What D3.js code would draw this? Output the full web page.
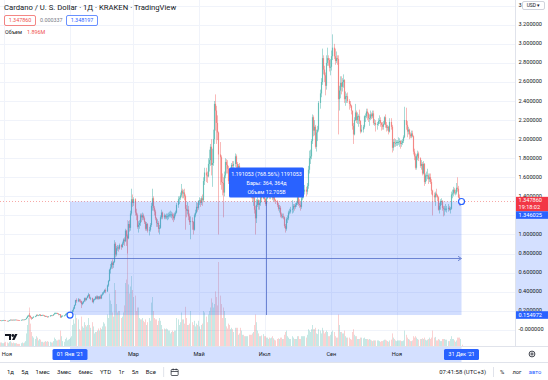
<!DOCTYPE html>
<html><head><meta charset="utf-8">
<script src="https://cdn.jsdelivr.net/npm/d3@7"></script>
<style>
html,body{margin:0;padding:0;background:#fff;}
svg{display:block;font-family:Roboto,"Liberation Sans",Arial,sans-serif;}
</style></head><body>
<svg id="c" width="548" height="380"></svg>
<script>
// ---------- DATA (daily candles, ADA/USD Kraken) ----------
const monthStarts = ["2020-10-27","2020-11-01","2020-12-01","2021-01-01","2021-02-01","2021-03-01","2021-04-01","2021-05-01","2021-06-01","2021-07-01","2021-08-01","2021-09-01","2021-10-01","2021-11-01","2021-12-01"];
const close = [
 [0.101,0.097,0.098,0.100,0.101],
 [0.100,0.094,0.092,0.094,0.100,0.106,0.101,0.105,0.104,0.105,0.106,0.104,0.103,0.101,0.099,0.104,0.107,0.106,0.108,0.112,0.126,0.142,0.150,0.146,0.131,0.118,0.128,0.138,0.142,0.157],
 [0.150,0.152,0.160,0.146,0.153,0.156,0.151,0.141,0.145,0.140,0.133,0.140,0.151,0.152,0.150,0.162,0.173,0.173,0.176,0.170,0.161,0.163,0.130,0.146,0.147,0.150,0.164,0.168,0.171,0.173,0.175],
 [0.176,0.179,0.205,0.224,0.259,0.311,0.300,0.318,0.305,0.301,0.270,0.284,0.299,0.331,0.313,0.333,0.355,0.370,0.332,0.335,0.291,0.316,0.322,0.347,0.327,0.350,0.326,0.348,0.330,0.368,0.381],
 [0.392,0.417,0.403,0.465,0.512,0.630,0.655,0.703,0.680,0.712,0.903,0.790,0.855,0.864,0.852,0.890,0.868,0.907,0.946,0.930,1.040,0.980,0.960,1.110,1.070,1.220,1.370,1.330],
 [1.370,1.230,1.200,1.080,1.100,1.120,1.200,1.180,1.200,1.170,1.130,1.060,1.110,1.040,1.050,1.100,1.300,1.380,1.280,1.240,1.170,1.120,1.120,1.060,1.070,1.180,1.230,1.180,1.200,1.180,1.190],
 [1.190,1.200,1.210,1.210,1.210,1.190,1.170,1.210,1.230,1.310,1.370,1.380,1.410,1.460,1.430,1.440,1.400,1.270,1.250,1.260,1.190,1.130,1.140,1.130,1.050,1.200,1.230,1.290,1.280,1.350],
 [1.360,1.330,1.380,1.360,1.560,1.650,1.620,1.610,1.740,1.780,1.920,1.730,1.750,2.000,2.370,2.300,2.170,2.070,1.840,1.810,1.550,1.540,1.440,1.620,1.760,1.730,1.690,1.560,1.530,1.620,1.730],
 [1.720,1.740,1.820,1.740,1.630,1.720,1.650,1.550,1.550,1.550,1.520,1.490,1.560,1.580,1.580,1.500,1.480,1.430,1.380,1.390,1.260,1.170,1.310,1.360,1.310,1.330,1.390,1.380,1.430,1.370],
 [1.320,1.380,1.420,1.440,1.400,1.430,1.460,1.380,1.410,1.360,1.350,1.310,1.270,1.280,1.210,1.190,1.190,1.180,1.090,1.060,1.160,1.170,1.230,1.240,1.260,1.270,1.300,1.290,1.310,1.330,1.390],
 [1.320,1.310,1.290,1.380,1.420,1.450,1.470,1.450,1.510,1.680,1.800,1.820,1.980,2.230,2.090,2.130,1.920,2.070,2.100,2.380,2.480,2.600,2.850,2.730,2.670,2.560,2.800,2.850,2.830,2.750,2.760],
 [2.870,2.960,2.870,2.820,2.850,2.840,2.420,2.510,2.590,2.550,2.600,2.620,2.420,2.450,2.450,2.400,2.370,2.350,2.300,2.140,2.050,2.200,2.280,2.200,2.240,2.240,2.190,2.080,2.100,2.130],
 [2.240,2.240,2.290,2.270,2.220,2.220,2.260,2.240,2.270,2.170,2.170,2.150,2.160,2.190,2.200,2.170,2.150,2.130,2.160,2.230,2.150,2.120,2.130,2.080,2.180,2.130,1.910,1.970,1.960,1.960,1.970],
 [1.970,1.970,1.980,1.950,1.960,1.980,2.020,2.200,2.150,2.080,2.100,2.050,2.030,2.060,2.030,1.870,1.820,1.700,1.820,1.850,1.800,1.720,1.740,1.640,1.740,1.550,1.620,1.620,1.620,1.580],
 [1.600,1.550,1.460,1.410,1.390,1.430,1.410,1.390,1.260,1.300,1.350,1.350,1.280,1.270,1.270,1.270,1.270,1.280,1.260,1.270,1.420,1.430,1.470,1.440,1.440,1.490,1.480,1.390,1.320,1.360,1.34786]
];
const high = [
 [0.104,0.102,0.100,0.102,0.104],
 [0.103,0.101,0.095,0.096,0.101,0.108,0.107,0.106,0.108,0.107,0.108,0.107,0.105,0.104,0.102,0.105,0.109,0.109,0.110,0.114,0.130,0.150,0.158,0.175,0.150,0.133,0.131,0.140,0.146,0.160],
 [0.162,0.156,0.163,0.162,0.155,0.158,0.158,0.153,0.148,0.147,0.141,0.142,0.153,0.156,0.153,0.165,0.180,0.182,0.180,0.179,0.172,0.166,0.165,0.150,0.152,0.155,0.170,0.180,0.173,0.183,0.186],
 [0.184,0.187,0.210,0.240,0.264,0.315,0.330,0.333,0.325,0.321,0.305,0.294,0.305,0.338,0.339,0.340,0.362,0.387,0.374,0.346,0.336,0.324,0.330,0.352,0.360,0.360,0.352,0.356,0.368,0.371,0.395],
 [0.405,0.425,0.434,0.475,0.523,0.640,0.690,0.720,0.740,0.720,0.940,0.920,0.880,0.890,0.885,0.905,0.900,0.925,0.960,0.970,1.060,1.050,1.000,1.140,1.150,1.250,1.480,1.420],
 [1.390,1.380,1.270,1.220,1.140,1.150,1.220,1.220,1.230,1.220,1.190,1.140,1.130,1.120,1.080,1.120,1.330,1.480,1.400,1.300,1.260,1.180,1.160,1.140,1.100,1.200,1.260,1.240,1.220,1.210,1.220],
 [1.220,1.230,1.240,1.250,1.240,1.230,1.220,1.230,1.250,1.330,1.400,1.400,1.440,1.530,1.480,1.470,1.480,1.420,1.310,1.340,1.300,1.220,1.190,1.180,1.140,1.220,1.260,1.340,1.330,1.360],
 [1.390,1.380,1.400,1.420,1.600,1.700,1.700,1.660,1.800,1.890,1.950,2.000,1.900,2.100,2.400,2.470,2.350,2.250,2.080,1.970,1.830,1.640,1.600,1.660,1.800,1.790,1.780,1.720,1.620,1.650,1.750],
 [1.770,1.770,1.850,1.840,1.760,1.740,1.750,1.660,1.620,1.620,1.590,1.540,1.570,1.620,1.630,1.590,1.540,1.490,1.440,1.420,1.400,1.300,1.370,1.440,1.370,1.360,1.420,1.450,1.470,1.440],
 [1.380,1.400,1.440,1.460,1.450,1.460,1.490,1.460,1.430,1.420,1.370,1.360,1.330,1.310,1.300,1.230,1.220,1.220,1.190,1.110,1.180,1.200,1.250,1.270,1.290,1.360,1.320,1.320,1.330,1.350,1.420],
 [1.400,1.370,1.340,1.400,1.440,1.480,1.520,1.500,1.540,1.720,1.880,1.890,2.000,2.260,2.250,2.200,2.150,2.100,2.140,2.400,2.520,2.640,2.950,2.880,2.770,2.700,2.880,2.960,2.880,2.850,2.840],
 [2.930,3.100,3.000,2.950,2.920,2.880,2.880,2.560,2.660,2.660,2.640,2.680,2.630,2.500,2.480,2.490,2.420,2.400,2.360,2.300,2.170,2.230,2.370,2.300,2.280,2.260,2.310,2.200,2.150,2.150],
 [2.250,2.270,2.320,2.320,2.280,2.260,2.300,2.280,2.300,2.300,2.210,2.200,2.180,2.220,2.250,2.230,2.180,2.180,2.190,2.240,2.260,2.180,2.150,2.140,2.220,2.220,2.150,2.000,2.010,2.000,1.990],
 [1.990,2.020,2.010,1.990,1.990,2.000,2.040,2.340,2.330,2.190,2.130,2.110,2.070,2.090,2.090,2.040,1.900,1.850,1.840,1.880,1.870,1.810,1.780,1.760,1.770,1.750,1.640,1.660,1.690,1.640],
 [1.640,1.640,1.580,1.470,1.440,1.450,1.480,1.420,1.400,1.330,1.370,1.380,1.360,1.300,1.300,1.320,1.300,1.320,1.300,1.290,1.450,1.470,1.500,1.490,1.470,1.540,1.600,1.510,1.420,1.380,1.370]
];
const low = [
 [0.098,0.095,0.096,0.097,0.099],
 [0.098,0.093,0.090,0.090,0.093,0.099,0.099,0.100,0.101,0.102,0.103,0.102,0.101,0.099,0.097,0.098,0.102,0.104,0.104,0.107,0.111,0.122,0.136,0.135,0.118,0.104,0.113,0.125,0.133,0.140],
 [0.146,0.147,0.150,0.143,0.145,0.150,0.150,0.138,0.137,0.138,0.128,0.132,0.139,0.147,0.147,0.148,0.159,0.167,0.169,0.165,0.152,0.157,0.125,0.127,0.140,0.143,0.149,0.160,0.157,0.167,0.169],
 [0.170,0.170,0.171,0.188,0.217,0.252,0.283,0.290,0.290,0.281,0.228,0.258,0.273,0.294,0.297,0.306,0.330,0.342,0.323,0.311,0.285,0.276,0.306,0.315,0.320,0.318,0.316,0.320,0.322,0.322,0.357],
 [0.370,0.389,0.383,0.397,0.451,0.507,0.590,0.640,0.640,0.650,0.700,0.760,0.770,0.830,0.820,0.840,0.840,0.860,0.890,0.880,0.920,0.880,0.800,0.950,1.030,1.040,1.200,1.290],
 [1.300,1.200,1.150,1.060,1.020,1.060,1.090,1.130,1.150,1.150,1.110,1.040,1.040,1.020,0.990,1.030,1.080,1.250,1.250,1.200,1.150,1.080,1.080,1.020,1.000,1.060,1.160,1.160,1.160,1.160,1.160],
 [1.150,1.160,1.180,1.180,1.170,1.150,1.130,1.150,1.190,1.220,1.280,1.320,1.360,1.390,1.380,1.380,1.360,1.050,1.180,1.210,1.150,1.100,0.950,1.050,1.000,1.040,1.180,1.220,1.240,1.260],
 [1.310,1.290,1.310,1.300,1.340,1.520,1.550,1.540,1.600,1.660,1.720,1.620,1.500,1.720,1.950,2.090,1.950,1.990,1.000,1.520,1.470,1.410,1.180,1.400,1.590,1.640,1.640,1.530,1.420,1.480,1.560],
 [1.640,1.660,1.710,1.690,1.590,1.600,1.610,1.440,1.500,1.480,1.470,1.460,1.440,1.510,1.540,1.470,1.440,1.380,1.340,1.300,1.220,1.000,1.120,1.290,1.260,1.260,1.300,1.340,1.370,1.340],
 [1.300,1.300,1.370,1.400,1.370,1.370,1.400,1.360,1.350,1.340,1.320,1.290,1.250,1.230,1.180,1.170,1.170,1.160,1.070,1.020,1.040,1.120,1.150,1.210,1.220,1.220,1.230,1.250,1.270,1.290,1.310],
 [1.300,1.280,1.250,1.270,1.360,1.380,1.420,1.400,1.420,1.480,1.640,1.740,1.790,1.950,2.030,2.040,1.900,1.870,1.980,2.080,2.320,2.440,2.570,2.680,2.600,2.460,2.520,2.770,2.770,2.710,2.670],
 [2.720,2.830,2.840,2.780,2.800,2.780,2.050,2.300,2.430,2.470,2.500,2.540,2.380,2.350,2.380,2.380,2.310,2.330,2.260,2.100,1.950,2.040,2.190,2.170,2.160,2.130,2.160,2.060,2.070,2.070],
 [2.110,2.180,2.220,2.200,2.180,2.140,2.200,2.210,2.220,2.150,2.140,2.080,2.100,2.140,2.160,2.130,2.090,2.100,2.100,2.150,2.120,2.080,2.090,2.050,2.070,2.100,1.860,1.880,1.920,1.920,1.930],
 [1.930,1.940,1.920,1.900,1.920,1.940,1.960,2.010,2.100,2.020,2.050,2.000,2.010,2.010,2.020,1.840,1.780,1.680,1.680,1.780,1.770,1.700,1.680,1.620,1.630,1.510,1.530,1.560,1.580,1.530],
 [1.550,1.530,1.420,1.200,1.340,1.300,1.390,1.350,1.250,1.220,1.260,1.310,1.250,1.190,1.200,1.240,1.230,1.240,1.250,1.220,1.260,1.380,1.400,1.420,1.410,1.420,1.450,1.380,1.300,1.300,1.340]
];
// volume, millions
const volume = [
 [6,5,5,4,4],
 [5,6,5,4,6,7,5,4,5,4,4,4,3,3,3,4,5,4,5,7,18,30,40,55,32,20,14,12,10,14],
 [12,8,10,9,6,6,5,6,7,6,7,6,6,5,5,7,12,10,8,8,9,9,22,14,7,6,10,12,8,9,10],
 [12,14,30,38,32,45,40,38,24,22,42,28,26,34,30,28,30,40,30,26,34,28,18,20,20,22,25,22,26,24,28],
 [34,32,28,45,40,75,65,60,48,42,90,80,60,48,50,50,40,42,48,58,90,95,180,88,75,85,100,80],
 [70,72,50,55,55,40,38,38,40,36,34,38,30,34,40,36,62,70,50,40,38,38,30,36,40,36,30,24,25,24,25],
 [24,22,22,18,20,22,20,22,22,40,38,30,34,48,38,38,32,56,40,30,30,32,50,34,30,36,28,32,30,36],
 [28,24,30,32,50,48,42,34,45,50,55,68,62,55,60,78,70,58,120,72,60,40,55,50,40,28,25,32,30,24,26],
 [24,20,26,26,26,16,18,26,22,16,16,14,14,14,14,16,16,16,18,20,30,45,34,22,18,14,14,15,17,14],
 [14,12,12,10,12,11,12,14,11,9,8,10,11,10,12,12,10,10,16,20,22,14,12,10,10,14,12,10,10,10,14],
 [14,10,10,14,14,14,14,12,16,24,22,20,24,30,24,24,26,18,17,24,22,18,26,22,18,20,22,20,14,14,16],
 [20,22,20,14,12,12,45,30,20,20,18,18,22,14,12,12,12,10,9,20,24,16,14,14,10,10,10,12,12,11],
 [12,10,10,10,9,10,9,8,7,8,8,8,8,8,7,6,7,7,8,9,9,8,7,6,8,9,18,12,10,8,7],
 [8,8,8,8,7,7,8,22,16,12,10,9,7,7,8,14,12,14,12,10,9,10,10,11,10,12,9,8,9,10],
 [12,10,12,22,12,13,8,8,10,9,7,7,10,10,10,9,9,7,7,10,14,10,10,8,6,8,12,12,12,10,1.896]
];
const priceTicks = [3.4,3.2,3.0,2.8,2.6,2.4,2.2,2.0,1.8,1.6,1.4,1.2,1.0,0.8,0.6,0.4,0.2,0.0,-0.2];
const priceTickLabels = ["3.400000","3.200000","3.000000","2.800000","2.600000","2.400000","2.200000","2.000000","1.800000","1.600000","1.400000","1.200000","1.000000","0.800000","0.600000","0.400000","0.200000","-0.000000","-0.200000"];
const gridDates = ["2020-11-01","2021-01-01","2021-03-01","2021-05-01","2021-07-01","2021-09-01","2021-11-01"];
const timeTickDates = ["2020-11-01","2021-03-01","2021-05-01","2021-07-01","2021-09-01","2021-11-01"];
const timeTickTexts = ["Ноя","Мар","Май","Июл","Сен","Ноя"];
const measureDates = ["2021-01-01","2021-12-31"];
const measurePrices = [0.154972, 1.346025];
const measureText = ["1.191053 (768.56%) 1191053","Бары: 364, 364д","Объем 12.705B"];
const measureDateTexts = ["01 Янв '21","31 Дек '21"];
const titleText = "Cardano / U. S. Dollar · 1Д · KRAKEN · TradingView";
const quoteTexts = ["1.347860","0.000337","1.348197"];
const volumeLegend = ["Объем","1.896M"];
const lastPrice = 1.34786, lastPriceText = "1.347860", countdownText = "19:18:02";
const rangeButtons = ["1д","5д","1мес","3мес","6мес","YTD","1г","5л","Все"];
const clockText = "07:41:58 (UTC+3)";
const scaleButtons = ["%","лог","авто"];

// ---------- BUILD ----------
const rows = [];
monthStarts.forEach((ms, m) => {
  const t0 = Date.parse(ms + "T00:00:00Z");
  close[m].forEach((c, i) => rows.push({date: new Date(t0 + i*864e5), c, h: high[m][i], l: low[m][i], v: volume[m][i]}));
});
rows.forEach((r, i) => { r.o = i ? rows[i-1].c : r.c; r.up = r.c >= r.o; r.h = Math.max(r.h, r.o, r.c); r.l = Math.min(r.l, r.o, r.c); });

const paneR = 515, paneB = 346, axisB = 362;
const UP = "#26a69a", DN = "#ef5350", BLUE = "#2962ff", TXT = "#131722";
const svg = d3.select("#c");
const x = d3.scaleUtc().domain([new Date(Date.UTC(2021,0,1)), new Date(Date.UTC(2021,11,31))]).range([70, 461.5]);
const y = d3.scaleLinear().domain([0, 3.2]).range([329.8, 24.8]);
const yv = d3.scaleLinear().domain([0, 180]).range([paneB, 220]);
const px = d => Math.round(x(d)) + 0.5;
const parse = s => new Date(s + "T00:00:00Z");

svg.append("rect").attr("width",548).attr("height",380).attr("fill","#fff");
const defs = svg.append("defs");
defs.append("clipPath").attr("id","pane").append("rect").attr("x",0).attr("y",0).attr("width",paneR).attr("height",paneB);
defs.append("clipPath").attr("id","usdclip").append("rect").attr("x",paneR).attr("y",0).attr("width",7).attr("height",12);
const pane = svg.append("g").attr("clip-path","url(#pane)");

// grid
pane.selectAll("line.gh").data(priceTicks).join("line").attr("class","gh")
  .attr("x1",0).attr("x2",paneR).attr("y1",d=>Math.round(y(d))+0.5).attr("y2",d=>Math.round(y(d))+0.5)
  .attr("stroke","#f0f3fa").attr("stroke-width",1);
pane.selectAll("line.gv").data(gridDates).join("line").attr("class","gv")
  .attr("x1",d=>px(parse(d))).attr("x2",d=>px(parse(d))).attr("y1",0).attr("y2",paneB)
  .attr("stroke","#f0f3fa").attr("stroke-width",1);

// volume
pane.selectAll("rect.vol").data(rows).join("rect").attr("class","vol")
  .attr("x",d=>Math.round(x(d.date))).attr("width",1)
  .attr("y",d=>yv(d.v)).attr("height",d=>paneB-yv(d.v))
  .attr("fill",d=>d.up?UP:DN).attr("fill-opacity",0.26);

// candles
pane.selectAll("line.wick").data(rows).join("line").attr("class","wick")
  .attr("x1",d=>px(d.date)).attr("x2",d=>px(d.date))
  .attr("y1",d=>y(d.h)).attr("y2",d=>y(d.l))
  .attr("stroke",d=>d.up?UP:DN).attr("stroke-opacity",0.4).attr("stroke-width",1);
pane.selectAll("rect.body").data(rows).join("rect").attr("class","body")
  .attr("x",d=>px(d.date)-0.6).attr("width",1.2)
  .attr("y",d=>y(Math.max(d.o,d.c))).attr("height",d=>Math.max(0.8,Math.abs(y(d.o)-y(d.c))))
  .attr("fill",d=>d.up?UP:DN).attr("fill-opacity",0.5);

// price line
pane.append("line").attr("x1",0).attr("x2",paneR).attr("y1",Math.round(y(lastPrice))+0.5).attr("y2",Math.round(y(lastPrice))+0.5)
  .attr("stroke",DN).attr("stroke-opacity",0.5).attr("stroke-dasharray","1,2");

// measure tool
const mx0 = x(parse(measureDates[0])), mx1 = x(parse(measureDates[1]));
const my0 = y(measurePrices[0]), my1 = y(measurePrices[1]);
pane.append("rect").attr("x",mx0).attr("y",my1).attr("width",mx1-mx0).attr("height",my0-my1)
  .attr("fill",BLUE).attr("fill-opacity",0.21);
const mmx = Math.round((mx0+mx1)/2)+0.5, mmy = Math.round((my0+my1)/2)+0.5;
pane.append("line").attr("x1",mx0).attr("x2",mx1-1).attr("y1",mmy).attr("y2",mmy).attr("stroke","#4a66c4").attr("stroke-opacity",0.75);
pane.append("path").attr("d",`M${mx1-3.5},${mmy-2.2}L${mx1},${mmy}L${mx1-3.5},${mmy+2.2}`).attr("fill","none").attr("stroke","#4a66c4").attr("stroke-opacity",0.75);
pane.append("line").attr("x1",mmx).attr("x2",mmx).attr("y1",my1).attr("y2",my0).attr("stroke","#4a66c4").attr("stroke-opacity",0.75);
const lbW = 75, lbH = 30, lbX = mmx - lbW/2, lbY = my1 - lbH - 4;
pane.append("rect").attr("x",lbX).attr("y",lbY).attr("width",lbW).attr("height",lbH).attr("rx",1.5).attr("fill",BLUE);
pane.selectAll("text.ml").data(measureText).join("text").attr("class","ml")
  .attr("x",mmx).attr("y",(d,i)=>lbY+7.5+i*9).attr("text-anchor","middle").attr("dominant-baseline","middle")
  .attr("font-size",5.4).attr("fill","#fff").text(d=>d);
[[mx0,my0],[mx1,my1]].forEach(([cx,cy])=>pane.append("circle").attr("cx",cx).attr("cy",cy).attr("r",3)
  .attr("fill","#fff").attr("stroke",BLUE).attr("stroke-width",1.2));

// TV logo
const logo = svg.append("g").attr("transform","translate(5,334)").attr("fill","#131722");
logo.append("path").attr("d","M0,0H6V6H4V2H0Z");
logo.append("circle").attr("cx",7.8).attr("cy",1.5).attr("r",1.4);
logo.append("path").attr("d","M10,0H12.5L9.5,6H7Z");

// legend
svg.append("text").attr("x",4).attr("y",9.5).attr("font-size",7.7).attr("fill",TXT).text(titleText);
const q = svg.append("g").attr("font-size",5.4);
q.append("rect").attr("x",4.5).attr("y",15.5).attr("width",31).attr("height",10).attr("rx",1.5).attr("fill","#fff").attr("stroke",DN).attr("stroke-opacity",0.7);
q.append("text").attr("x",20).attr("y",20.7).attr("text-anchor","middle").attr("dominant-baseline","middle").attr("fill",DN).text(quoteTexts[0]);
q.append("text").attr("x",40).attr("y",20.7).attr("dominant-baseline","middle").attr("fill","#787b86").text(quoteTexts[1]);
q.append("rect").attr("x",66.5).attr("y",15.5).attr("width",31).attr("height",10).attr("rx",1.5).attr("fill","#fff").attr("stroke",BLUE).attr("stroke-opacity",0.7);
q.append("text").attr("x",82).attr("y",20.7).attr("text-anchor","middle").attr("dominant-baseline","middle").attr("fill",BLUE).text(quoteTexts[2]);
q.append("text").attr("x",5).attr("y",33).attr("dominant-baseline","middle").attr("fill",TXT).text(volumeLegend[0]);
q.append("text").attr("x",27).attr("y",33).attr("dominant-baseline","middle").attr("fill",DN).text(volumeLegend[1]);

// price axis
const ax = svg.append("g");
ax.append("rect").attr("x",paneR).attr("y",0).attr("width",548-paneR).attr("height",paneB).attr("fill","#fff");
ax.append("rect").attr("x",paneR).attr("y",my1).attr("width",548-paneR).attr("height",my0-my1).attr("fill",BLUE).attr("fill-opacity",0.2);
ax.append("line").attr("x1",paneR+0.5).attr("x2",paneR+0.5).attr("y1",0).attr("y2",axisB).attr("stroke","#e0e3eb");
ax.selectAll("text.pt").data(priceTicks).join("text").attr("class","pt")
  .attr("x",518.5).attr("y",d=>y(d)).attr("dominant-baseline","middle").attr("font-size",5.6).attr("fill",TXT)
  .attr("clip-path",(d,i)=>i===0?"url(#usdclip)":null)
  .text((d,i)=>priceTickLabels[i]);
// USD box
ax.append("rect").attr("x",522.5).attr("y",1.5).attr("width",22).attr("height",8).attr("rx",1.5).attr("fill","#fff").attr("stroke","#d1d4dc");
ax.append("text").attr("x",533.5).attr("y",5.8).attr("text-anchor","middle").attr("dominant-baseline","middle").attr("font-size",5).attr("fill",TXT).text("USD ▾");
// labels
const ly = y(lastPrice);
ax.append("rect").attr("x",paneR+1).attr("y",ly-4.5).attr("width",32).attr("height",14.5).attr("fill","#f23645");
ax.append("text").attr("x",518.5).attr("y",ly-0.5).attr("dominant-baseline","middle").attr("font-size",5.6).attr("fill","#fff").text(lastPriceText);
ax.append("text").attr("x",518.5).attr("y",ly+6).attr("dominant-baseline","middle").attr("font-size",5.6).attr("fill","#fff").text(countdownText);
ax.append("rect").attr("x",paneR+1).attr("y",ly+10).attr("width",32).attr("height",7.5).attr("fill",BLUE);
ax.append("text").attr("x",518.5).attr("y",ly+13.9).attr("dominant-baseline","middle").attr("font-size",5.6).attr("fill","#fff").text(d3.format(".6f")(measurePrices[1]));
ax.append("rect").attr("x",paneR+1).attr("y",my0-3.8).attr("width",32).attr("height",7.6).attr("fill",BLUE);
ax.append("text").attr("x",518.5).attr("y",my0+0.1).attr("dominant-baseline","middle").attr("font-size",5.6).attr("fill","#fff").text(d3.format(".6f")(measurePrices[0]));

// time axis
const ta = svg.append("g");
ta.append("rect").attr("x",0).attr("y",paneB).attr("width",548).attr("height",axisB-paneB).attr("fill","#fff");
ta.append("line").attr("x1",0).attr("x2",548).attr("y1",paneB+0.5).attr("y2",paneB+0.5).attr("stroke","#e0e3eb");
ta.append("rect").attr("x",mx0).attr("y",paneB+1).attr("width",mx1-mx0).attr("height",axisB-paneB-1).attr("fill",BLUE).attr("fill-opacity",0.2);
ta.selectAll("text.tt").data(timeTickDates).join("text").attr("class","tt")
  .attr("x",d=>Math.max(7,x(parse(d)))).attr("y",354.5).attr("text-anchor","middle").attr("dominant-baseline","middle")
  .attr("font-size",5.6).attr("fill",TXT).text((d,i)=>timeTickTexts[i]);
measureDates.forEach((d,i)=>{
  const cx = x(parse(d));
  ta.append("rect").attr("x",cx-17.5).attr("y",349).attr("width",35).attr("height",11).attr("rx",1.5).attr("fill",BLUE);
  ta.append("text").attr("x",cx).attr("y",354.7).attr("text-anchor","middle").attr("dominant-baseline","middle").attr("font-size",5.6).attr("fill","#fff").text(measureDateTexts[i]);
});
// gear
const gear = ta.append("g").attr("transform","translate(532,354)").attr("fill","none").attr("stroke","#131722").attr("stroke-width",0.8);
gear.append("circle").attr("r",2.9);
gear.append("circle").attr("r",1.1);

// bottom toolbar
const tb = svg.append("g");
tb.append("line").attr("x1",0).attr("x2",548).attr("y1",axisB+0.5).attr("y2",axisB+0.5).attr("stroke","#e0e3eb");
let bx = 7;
rangeButtons.forEach(t=>{
  const el = tb.append("text").attr("x",bx).attr("y",372).attr("dominant-baseline","middle").attr("font-size",6).attr("fill",TXT).text(t);
  bx += el.node().getComputedTextLength() + 7.3;
});
tb.append("line").attr("x1",bx+0.5).attr("x2",bx+0.5).attr("y1",367).attr("y2",377).attr("stroke","#e0e3eb");
const cal = tb.append("g").attr("transform",`translate(${bx+8},368.5)`).attr("fill","none").attr("stroke",TXT).attr("stroke-width",0.7);
cal.append("rect").attr("x",0).attr("y",1).attr("width",7).attr("height",6).attr("rx",0.8);
cal.append("line").attr("x1",0).attr("x2",7).attr("y1",3).attr("y2",3);
cal.append("line").attr("x1",2).attr("x2",2).attr("y1",0).attr("y2",1.8);
cal.append("line").attr("x1",5).attr("x2",5).attr("y1",0).attr("y2",1.8);
tb.append("text").attr("x",486).attr("y",372).attr("text-anchor","end").attr("dominant-baseline","middle").attr("font-size",6).attr("fill",TXT).text(clockText);
tb.append("line").attr("x1",493.5).attr("x2",493.5).attr("y1",367).attr("y2",377).attr("stroke","#e0e3eb");
[[502,TXT],[517,TXT],[535,BLUE]].forEach(([cx,col],i)=>
  tb.append("text").attr("x",cx).attr("y",372).attr("text-anchor","middle").attr("dominant-baseline","middle").attr("font-size",5.8).attr("fill",col).text(scaleButtons[i]));
</script>
</body></html>
